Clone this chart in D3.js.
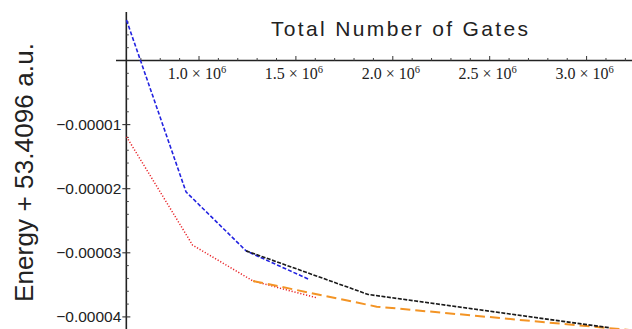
<!DOCTYPE html>
<html>
<head>
<meta charset="utf-8">
<script src="https://cdn.jsdelivr.net/npm/d3@7"></script>
<style>
  html, body { margin: 0; padding: 0; background: #fff; }
  svg { display: block; }
</style>
</head>
<body>
<div id="chart"></div>
<script>
// Data (gates, energy offset in a.u.)
const blueGates = [0.626e6, 0.933e6, 1.243e6, 1.564e6];
const blueEnergy = [6.3e-6, -20.5e-6, -29.7e-6, -34.1e-6];
const redGates = [0.626e6, 0.967e6, 1.279e6, 1.604e6];
const redEnergy = [-11.9e-6, -28.8e-6, -34.4e-6, -37.0e-6];
const blackGates = [1.243e6, 1.873e6, 3.12e6];
const blackEnergy = [-29.7e-6, -36.5e-6, -41.7e-6];
const orangeGates = [1.279e6, 1.917e6, 3.24e6];
const orangeEnergy = [-34.4e-6, -38.4e-6, -42.1e-6];

const xTickValues = [1.0e6, 1.5e6, 2.0e6, 2.5e6, 3.0e6];
const xTickLabels = ["1.0", "1.5", "2.0", "2.5", "3.0"];
const yTickValues = [-1e-5, -2e-5, -3e-5, -4e-5];
const yTickLabels = ["\u22120.00001", "\u22120.00002", "\u22120.00003", "\u22120.00004"];

const width = 632, height = 329;
const xOrigin = 0.625e6;

const svg = d3.select("#chart").append("svg")
  .attr("width", width)
  .attr("height", height);

const xScale = d3.scaleLinear().domain([1e6, 3e6]).range([199, 586.6]);
const yScale = d3.scaleLinear().domain([0, -4e-5]).range([60.5, 316.9]);

const x0 = xScale(xOrigin);
const y0 = yScale(0);

// clip region for the curves
svg.append("clipPath").attr("id", "plotclip")
  .append("rect").attr("x", 116).attr("y", 10).attr("width", width - 116).attr("height", height - 10);

// x axis (drawn by hand, ticks above the line)
const xAxis = svg.append("g").attr("class", "x-axis");
xAxis.append("line")
  .attr("x1", 116).attr("x2", width)
  .attr("y1", y0).attr("y2", y0)
  .attr("stroke", "#222").attr("stroke-width", 1.3);

const xMinor = d3.range(7, 33).map(d => d * 1e5).filter(d => xTickValues.indexOf(d) < 0);
xAxis.selectAll(".minor").data(xMinor).enter().append("line")
  .attr("x1", d => xScale(d)).attr("x2", d => xScale(d))
  .attr("y1", y0).attr("y2", y0 - 2.5)
  .attr("stroke", "#444").attr("stroke-width", 1);
xAxis.selectAll(".major").data(xTickValues).enter().append("line")
  .attr("x1", d => xScale(d)).attr("x2", d => xScale(d))
  .attr("y1", y0).attr("y2", y0 - 4.5)
  .attr("stroke", "#333").attr("stroke-width", 1);

const xLab = xAxis.selectAll(".xlab").data(xTickValues).enter().append("text")
  .attr("x", d => xScale(d) - 2)
  .attr("y", y0 + 18)
  .attr("text-anchor", "middle")
  .attr("font-family", "'Liberation Serif', 'DejaVu Serif', serif")
  .attr("font-size", 16)
  .attr("fill", "#222");
xLab.append("tspan").text((d, i) => xTickLabels[i] + " \u00d7 10");
xLab.append("tspan").attr("dy", -6).attr("font-size", 10.5).text("6");

// y axis
const yAxis = svg.append("g").attr("class", "y-axis");
yAxis.append("line")
  .attr("x1", x0).attr("x2", x0)
  .attr("y1", 12).attr("y2", height)
  .attr("stroke", "#222").attr("stroke-width", 1.6);

const yMinor = d3.range(3, -22, -1).map(d => d * 2e-6)
  .filter(d => Math.abs(d) > 1e-9 && Math.abs(Math.round(d / 1e-5) * 1e-5 - d) > 1e-9);
yAxis.selectAll(".minor").data(yMinor).enter().append("line")
  .attr("x1", x0).attr("x2", x0 + 2.5)
  .attr("y1", d => yScale(d)).attr("y2", d => yScale(d))
  .attr("stroke", "#444").attr("stroke-width", 1);
yAxis.selectAll(".major").data(yTickValues).enter().append("line")
  .attr("x1", x0 - 4).attr("x2", x0 + 4)
  .attr("y1", d => yScale(d)).attr("y2", d => yScale(d))
  .attr("stroke", "#333").attr("stroke-width", 1.1);
yAxis.selectAll(".ylab").data(yTickValues).enter().append("text")
  .attr("x", x0 - 5)
  .attr("y", d => yScale(d) + 5.5)
  .attr("text-anchor", "end")
  .attr("font-family", "'Liberation Sans', Arial, sans-serif")
  .attr("font-size", 15.5)
  .attr("fill", "#222")
  .text((d, i) => yTickLabels[i]);

// curves
const line = d3.line().x(d => xScale(d[0])).y(d => yScale(d[1]));
const series = [
  { gates: redGates, energy: redEnergy, color: "#e8262a", dash: "1.2,1.8", w: 1.5 },
  { gates: blueGates, energy: blueEnergy, color: "#2323e0", dash: "4,2", w: 1.6 },
  { gates: orangeGates, energy: orangeEnergy, color: "#f39425", dash: "10,5", w: 2 },
  { gates: blackGates, energy: blackEnergy, color: "#1a1a1a", dash: "4,1.5", w: 1.6 }
];
svg.append("g").attr("clip-path", "url(#plotclip)")
  .selectAll("path").data(series).enter().append("path")
  .attr("d", s => line(d3.zip(s.gates, s.energy)))
  .attr("fill", "none")
  .attr("stroke", s => s.color)
  .attr("stroke-width", s => s.w)
  .attr("stroke-dasharray", s => s.dash);

// titles
svg.append("text")
  .attr("x", 271).attr("y", 36)
  .attr("font-family", "'Liberation Sans', Arial, sans-serif")
  .attr("font-size", 21)
  .attr("fill", "#222")
  .attr("textLength", 257)
  .attr("lengthAdjust", "spacing")
  .text("Total Number of Gates");

svg.append("text")
  .attr("transform", "translate(33,302) rotate(-90)")
  .attr("font-family", "'Liberation Sans', Arial, sans-serif")
  .attr("font-size", 26)
  .attr("fill", "#222")
  .attr("textLength", 259)
  .attr("lengthAdjust", "spacing")
  .text("Energy + 53.4096 a.u.");
</script>
</body>
</html>
